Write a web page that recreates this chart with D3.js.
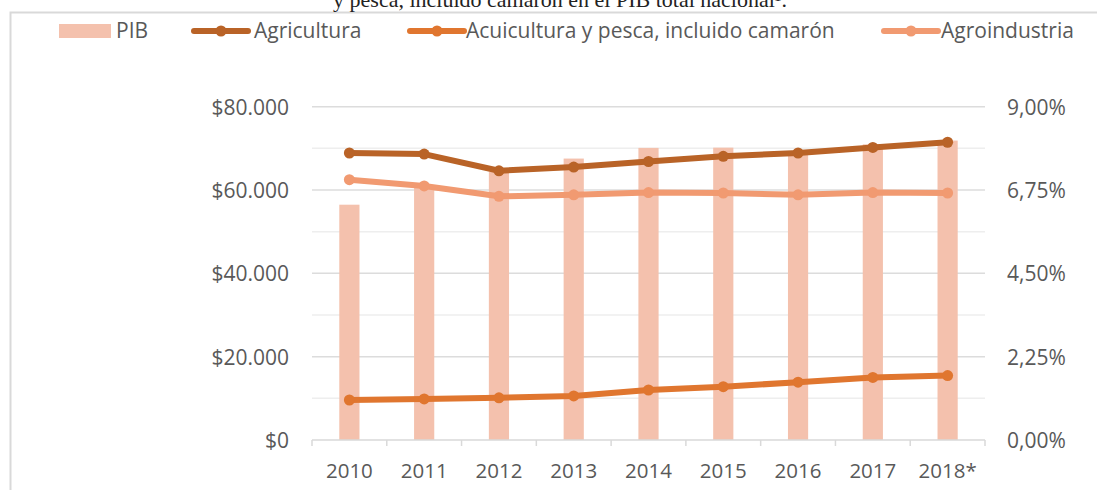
<!DOCTYPE html>
<html>
<head>
<meta charset="utf-8">
<script src="https://cdn.jsdelivr.net/npm/d3@7"></script>
<style>
  body { margin: 0; background: #fff; }
  svg { display: block; }
  .axis text { font-family: "Open Sans", sans-serif; fill: #595959; }
</style>
</head>
<body>
<div id="chart"></div>
<script>
// data
var years = ['2010', '2011', '2012', '2013', '2014', '2015', '2016', '2017', '2018*'];
var pib = [56480, 60930, 64360, 67550, 70110, 70170, 69310, 70960, 71870];
var agricultura = [7.75, 7.72, 7.27, 7.37, 7.52, 7.66, 7.75, 7.90, 8.04];
var acuicultura = [1.08, 1.11, 1.14, 1.19, 1.35, 1.44, 1.56, 1.69, 1.74];
var agroindustria = [7.03, 6.86, 6.58, 6.62, 6.68, 6.67, 6.62, 6.68, 6.67];
var leftTicks = [0, 20000, 40000, 60000, 80000];
var rightTicks = [0, 2.25, 4.5, 6.75, 9];
var titleText = 'y pesca, incluido camarón en el PIB total nacional¹.';

var W = 1097, H = 490;
var margin = { top: 106.7, right: 112, bottom: 50, left: 312 };

var colors = {
  pib: '#f4c1ad',
  agricultura: '#b96327',
  acuicultura: '#e0762f',
  agroindustria: '#f19a71'
};

var svg = d3.select('#chart').append('svg')
  .attr('width', W)
  .attr('height', H);

// frame
svg.append('path')
  .attr('d', 'M10.5,' + H + 'V12.5H' + W)
  .attr('fill', 'none')
  .attr('stroke', '#d9d9d9')
  .attr('stroke-width', 2);

// title (cut off at top, like the source page)
svg.append('text')
  .attr('x', 560)
  .attr('y', 7)
  .attr('text-anchor', 'middle')
  .style('font-family', '"Liberation Serif", serif')
  .style('font-size', '22px')
  .style('fill', '#222')
  .text(titleText);

var x = d3.scaleBand()
  .domain(years)
  .range([margin.left, 985])
  .paddingInner(0.73)
  .paddingOuter(0.365);

var band = d3.scaleBand().domain(years).range([margin.left, 985]);

var yL = d3.scaleLinear().domain([0, 80000]).range([440, margin.top]);
var yR = d3.scaleLinear().domain([0, 9]).range([440, margin.top]);

// gridlines (major + minor)
var minor = d3.range(10000, 80000, 20000);
svg.append('g').selectAll('line.minor')
  .data(minor)
  .enter().append('line')
  .attr('x1', margin.left).attr('x2', 985)
  .attr('y1', function(d) { return yL(d); })
  .attr('y2', function(d) { return yL(d); })
  .attr('stroke', '#eeeeee')
  .attr('stroke-width', 1.5);

svg.append('g').selectAll('line.major')
  .data(leftTicks.slice(1))
  .enter().append('line')
  .attr('x1', margin.left).attr('x2', 985)
  .attr('y1', function(d) { return yL(d); })
  .attr('y2', function(d) { return yL(d); })
  .attr('stroke', '#dcdcdc')
  .attr('stroke-width', 1.5);

// bars
svg.append('g').selectAll('rect')
  .data(pib)
  .enter().append('rect')
  .attr('x', function(d, i) { return x(years[i]); })
  .attr('y', function(d) { return yL(d); })
  .attr('width', x.bandwidth())
  .attr('height', function(d) { return 440 - yL(d); })
  .attr('fill', colors.pib);

// x axis
var gx = svg.append('g').attr('class', 'axis')
  .attr('transform', 'translate(0,440)');
gx.append('line')
  .attr('x1', margin.left).attr('x2', 985)
  .attr('stroke', '#d9d9d9').attr('stroke-width', 1.5);
gx.selectAll('line.tick')
  .data(years.concat(['end']))
  .enter().append('line')
  .attr('x1', function(d, i) { return i < years.length ? band(d) : 985; })
  .attr('x2', function(d, i) { return i < years.length ? band(d) : 985; })
  .attr('y1', 0).attr('y2', 6)
  .attr('stroke', '#d9d9d9').attr('stroke-width', 1.5);
gx.selectAll('text')
  .data(years)
  .enter().append('text')
  .attr('x', function(d) { return band(d) + band.bandwidth() / 2; })
  .attr('y', 38)
  .attr('text-anchor', 'middle')
  .style('font-size', '20.5px')
  .text(function(d) { return d; });

// left axis
var leftFmt = function(d) { return '$' + d3.format(',')(d).replace(/,/g, '.'); };
var gyl = svg.append('g').attr('class', 'axis')
  .attr('transform', 'translate(289,0)')
  .call(d3.axisLeft(yL).tickValues(leftTicks).tickSize(0).tickPadding(0).tickFormat(leftFmt));
gyl.select('.domain').remove();
gyl.selectAll('text').style('font-size', '21px').attr('dy', '0.35em');

// right axis
var rightFmt = function(d) { return d3.format('.2f')(d).replace('.', ',') + '%'; };
var gyr = svg.append('g').attr('class', 'axis')
  .attr('transform', 'translate(1007,0)')
  .call(d3.axisRight(yR).tickValues(rightTicks).tickSize(0).tickPadding(0).tickFormat(rightFmt));
gyr.select('.domain').remove();
gyr.selectAll('text').style('font-size', '21px').attr('dy', '0.35em');

// lines
var cx = function(i) { return band(years[i]) + band.bandwidth() / 2; };
var line = d3.line()
  .x(function(d, i) { return cx(i); })
  .y(function(d) { return yR(d); });

var series = [
  { key: 'agroindustria', values: agroindustria },
  { key: 'acuicultura', values: acuicultura },
  { key: 'agricultura', values: agricultura }
];

series.forEach(function(s) {
  var g = svg.append('g');
  g.append('path')
    .datum(s.values)
    .attr('d', line)
    .attr('fill', 'none')
    .attr('stroke', colors[s.key])
    .attr('stroke-width', 6)
    .attr('stroke-linejoin', 'round');
  g.selectAll('circle')
    .data(s.values)
    .enter().append('circle')
    .attr('cx', function(d, i) { return cx(i); })
    .attr('cy', function(d) { return yR(d); })
    .attr('r', 5.5)
    .attr('fill', colors[s.key]);
});

// legend
var legendItems = [
  { label: 'PIB', key: 'pib', type: 'rect', x: 59, tx: 116 },
  { label: 'Agricultura', key: 'agricultura', type: 'line', x: 191, tx: 254 },
  { label: 'Acuicultura y pesca, incluido camarón', key: 'acuicultura', type: 'line', x: 407, tx: 466 },
  { label: 'Agroindustria', key: 'agroindustria', type: 'line', x: 881, tx: 941 }
];
var legend = svg.append('g').attr('class', 'legend');
legendItems.forEach(function(it) {
  if (it.type === 'rect') {
    legend.append('rect')
      .attr('x', it.x).attr('y', 24)
      .attr('width', 52).attr('height', 14)
      .attr('fill', colors[it.key]);
  } else {
    legend.append('line')
      .attr('x1', it.x + 3).attr('x2', it.x + 57)
      .attr('y1', 31).attr('y2', 31)
      .attr('stroke', colors[it.key])
      .attr('stroke-width', 6)
      .attr('stroke-linecap', 'round');
    legend.append('circle')
      .attr('cx', it.x + 30).attr('cy', 31).attr('r', 5.5)
      .attr('fill', colors[it.key]);
  }
  legend.append('text')
    .attr('x', it.tx).attr('y', 31)
    .attr('dy', '0.35em')
    .style('font-family', '"Open Sans", sans-serif')
    .style('font-size', '21px')
    .style('fill', '#595959')
    .text(it.label);
});
</script>
</body>
</html>
